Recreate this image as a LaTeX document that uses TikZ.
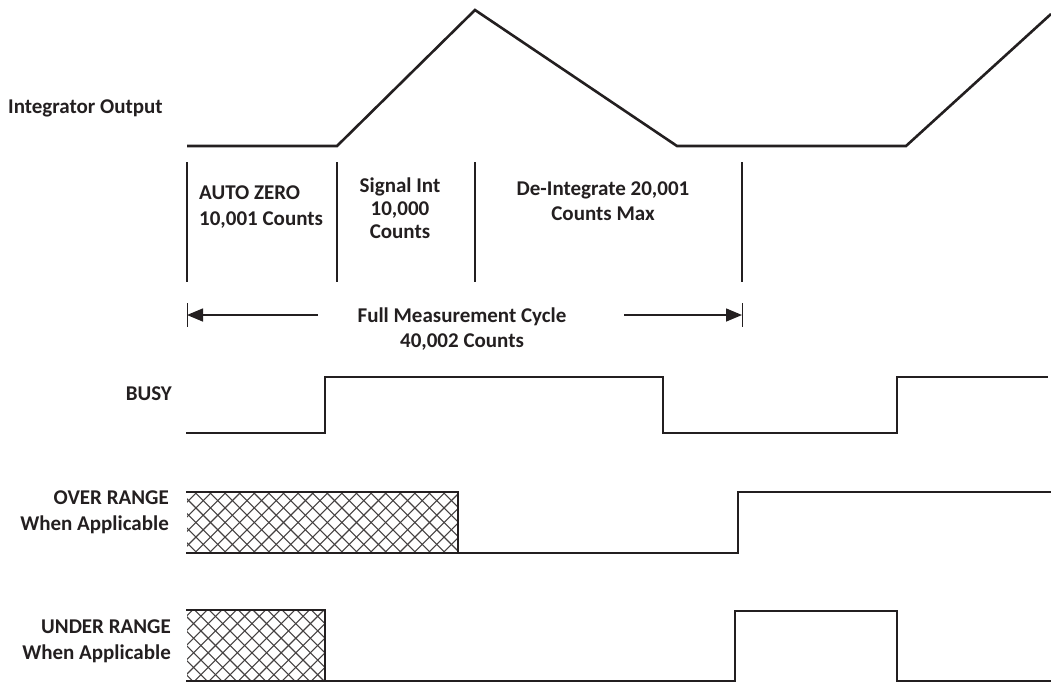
\documentclass[tikz,border=0pt]{standalone}
\usepackage{fontspec}
\setmainfont{Carlito}
\usetikzlibrary{arrows.meta}
\definecolor{ink}{HTML}{231F20}
\tikzset{
  sig/.style={draw=ink, line width=2.6pt, line join=miter, line cap=rect},
  divider/.style={draw=ink, line width=1.6pt},
  lbl/.style={font=\fontsize{21}{25}\selectfont\bfseries, text=ink, inner sep=0pt},
  dimline/.style={draw=ink, line width=1.5pt, -{Triangle[length=16pt,width=13pt]}},
  tickline/.style={draw=ink, line width=0.8pt},
  hatchline/.style={draw=ink!85, line width=1.1pt},
}
\begin{document}
\begin{tikzpicture}[x=1pt,y=-1pt]
\useasboundingbox (0,0) rectangle (1051,686);

% ---------- labels ----------
\node[lbl, anchor=base west] (intout) at (8,113) {Integrator Output};
\node[lbl, anchor=base west, align=left, font=\fontsize{21}{26}\selectfont\bfseries] (az) at (199,225) {AUTO ZERO\\10,001 Counts};
\node[lbl, anchor=base, align=center, font=\fontsize{21}{23}\selectfont\bfseries] (si) at (400,238) {Signal Int\\10,000\\Counts};
\node[lbl, anchor=base, align=center] (di) at (603,220) {De-Integrate 20,001\\Counts Max};
\node[lbl, anchor=base, align=center] (fmc) at (462,347) {Full Measurement Cycle\\40,002 Counts};
\node[lbl, anchor=base east] (busy) at (172,400) {BUSY};
\node[lbl, anchor=base east, align=right, font=\fontsize{21}{26}\selectfont\bfseries] (over) at (169,530) {OVER RANGE\\When Applicable};
\node[lbl, anchor=base east, align=right, font=\fontsize{21}{26}\selectfont\bfseries] (under) at (171,659) {UNDER RANGE\\When Applicable};

% ---------- integrator output ----------
\draw[sig, line cap=butt] (187,146) -- (337,146) -- (475,10) -- (677,146) -- (906,146) -- (1051,14);

% ---------- phase dividers ----------
\foreach \xx/\nm in {187/a,337/b,475/c,742/d}{
  \coordinate (top\nm) at (\xx,162);
  \coordinate (bot\nm) at (\xx,282);
  \draw[divider] (top\nm) -- (bot\nm);
}

% ---------- full measurement cycle dimension ----------
\coordinate (tlt) at (187,303);
\coordinate (tlb) at (187,327);
\coordinate (trt) at (742,303);
\coordinate (trb) at (742,327);
\coordinate (al) at (187,315);
\coordinate (ar) at (742,315);
\coordinate (als) at (318,315);
\coordinate (ars) at (624,315);
\draw[tickline] (tlt) -- (tlb);
\draw[tickline] (trt) -- (trb);
\draw[dimline] (als) -- (al);
\draw[dimline] (ars) -- (ar);

% ---------- BUSY ----------
\draw[sig] (187,433) -- (325,433) -- (325,377) -- (663,377) -- (663,433) -- (897,433) -- (897,377) -- (1047,377);

% ---------- OVER RANGE ----------
\begin{scope}
  \clip (187,492) rectangle (458,553);
  \foreach \k in {-6,...,20}{
    \draw[hatchline] (180+\k*14.6,553) -- ++(61,-61);
    \draw[hatchline] (180+\k*14.6,492) -- ++(61,61);
  }
\end{scope}
\draw[sig] (187,492) -- (458,492) -- (458,553);
\draw[sig] (187,553) -- (738,553) -- (738,492) -- (1051,492);

% ---------- UNDER RANGE ----------
\begin{scope}
  \clip (187,610) rectangle (325,681);
  \foreach \k in {-6,...,11}{
    \draw[hatchline] (180+\k*14.6,681) -- ++(71,-71);
    \draw[hatchline] (180+\k*14.6,610) -- ++(71,71);
  }
\end{scope}
\draw[sig] (187,610) -- (325,610) -- (325,681);
\draw[sig] (187,681) -- (735,681) -- (735,611) -- (897,611) -- (897,681) -- (1051,681);
\end{tikzpicture}
\end{document}
